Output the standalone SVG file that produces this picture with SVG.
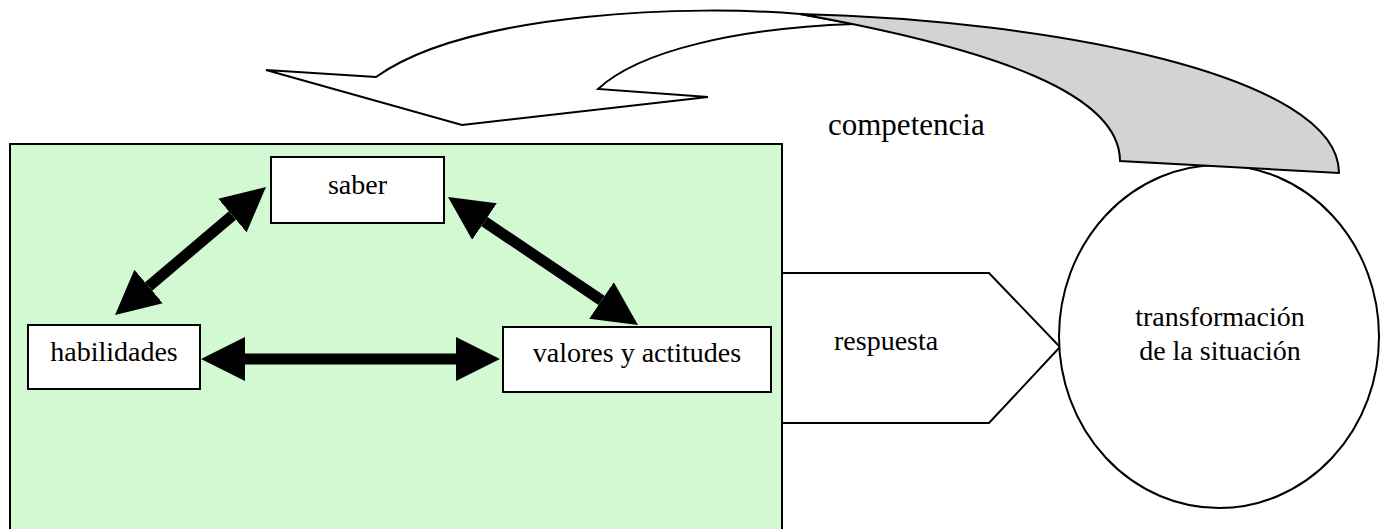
<svg xmlns="http://www.w3.org/2000/svg" width="1388" height="529" viewBox="0 0 1388 529">
<style>
  .ln { stroke: #000; stroke-width: 2; stroke-linejoin: miter; }
  .box { fill: #fff; stroke: #000; stroke-width: 2; }
  .t { font-family: "Liberation Serif", "Times New Roman", serif; font-size: 28px; fill: #000; }
  .c { text-anchor: middle; }
  .shaft { stroke: #000; stroke-width: 11; fill: none; }
</style>
<defs>
  <marker id="head" viewBox="0 0 44 44" markerWidth="44" markerHeight="44" refX="0" refY="22" orient="auto-start-reverse" markerUnits="userSpaceOnUse">
    <path d="M0,0 L44,22 L0,44 Z" fill="#000"/>
  </marker>
</defs>
<rect width="1388" height="529" fill="#fff"/>

<g id="competencia-arrow">
  <path class="ln" fill="#fff" d="M376,77 C470,10 700,5 800,14 L854,24 C740,28 640,50 598,89 L708,97 L462,125 L266,70 Z"/>
</g>

<g id="panel">
  <rect x="10" y="144" width="772" height="400" fill="#d2f9d2" stroke="#000" stroke-width="2"/>
</g>

<g id="respuesta">
  <polygon class="ln" fill="#fff" points="782,273 989,273 1060,347 989,423 782,423"/>
  <text class="t" x="834" y="350">respuesta</text>
</g>

<g id="transformacion">
  <ellipse class="ln" fill="#fff" cx="1219" cy="336.5" rx="160" ry="171.5"/>
  <text class="t c" x="1220" y="326">transformación</text>
  <text class="t c" x="1220" y="360">de la situación</text>
</g>

<g id="competencia-arrow-underside">
  <path class="ln" fill="#d3d3d3" d="M800,14 C1050,20 1339,75 1339,173 L1120,161 C1120,95 1000,50 800,14 Z"/>
</g>
<text id="competencia" class="t" x="828" y="135" style="font-size:31px">competencia</text>

<g id="saber">
  <rect class="box" x="271" y="157" width="173" height="66"/>
  <text class="t c" x="357.5" y="194">saber</text>
</g>
<g id="habilidades">
  <rect class="box" x="28" y="325" width="172" height="64"/>
  <text class="t c" x="114" y="361">habilidades</text>
</g>
<g id="valores">
  <rect class="box" x="503" y="327" width="268" height="65"/>
  <text class="t c" x="637" y="362">valores y actitudes</text>
</g>

<g id="connectors">
  <line class="shaft" x1="148.6" y1="286.5" x2="232.4" y2="215.5" marker-start="url(#head)" marker-end="url(#head)"/>
  <line class="shaft" x1="484.5" y1="221.6" x2="601.5" y2="300.4" marker-start="url(#head)" marker-end="url(#head)"/>
  <line class="shaft" x1="245" y1="359" x2="456" y2="359" marker-start="url(#head)" marker-end="url(#head)"/>
</g>
</svg>
